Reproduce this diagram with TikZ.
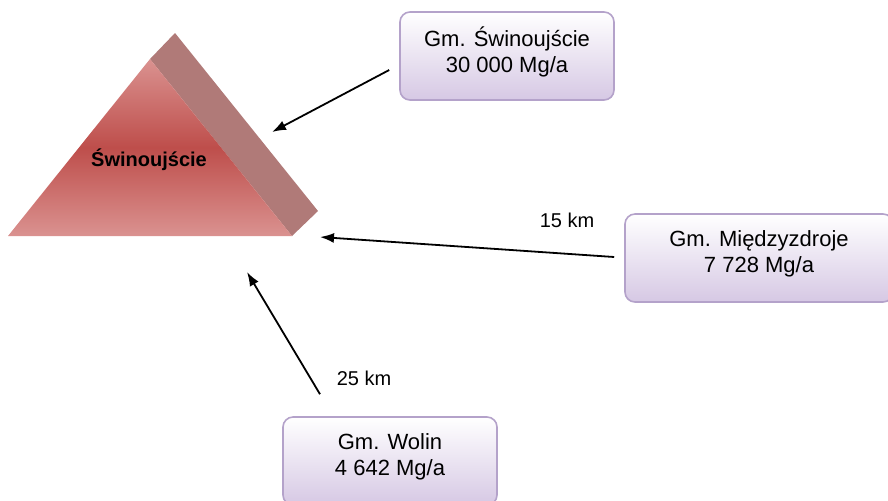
\documentclass[tikz,border=0pt]{standalone}
\usepackage{fontspec}
\setmainfont{Liberation Sans}
\usetikzlibrary{arrows.meta}

\definecolor{pyrlight}{RGB}{218,146,144}
\definecolor{pyrdark}{RGB}{190,78,75}
\definecolor{pyrside}{RGB}{176,122,120}
\definecolor{boxline}{RGB}{180,162,202}
\definecolor{boxfill}{RGB}{214,200,228}

\tikzset{
  gmbox/.style={draw=boxline, line width=0.8pt, rounded corners=5pt, top color=white, bottom color=boxfill, minimum width=107pt, minimum height=44pt, align=center, font=\fontsize{11}{13}\selectfont},
  flow/.style={-{Latex[length=7pt,width=5pt]}, line width=0.9pt},
  dist/.style={font=\fontsize{10}{12}\selectfont}
}

\begin{document}
\begin{tikzpicture}[x=0.5pt, y=-0.5pt]
\useasboundingbox (0,0) rectangle (888,500);

\fill[pyrside] (150,59) -- (175,33) -- (318,211) -- (292,236) -- cycle;
\shade[top color=pyrlight, bottom color=pyrlight, middle color=pyrdark] (150,59) -- (292,236) -- (8,236) -- cycle;
\node[font=\bfseries\fontsize{10}{12}\selectfont] (town) at (149,160) {Świnoujście};

\node[gmbox] (swin) at (507,56) {Gm. Świnoujście\\30 000 Mg/a\rule[-6.3pt]{0pt}{0pt}};
\node[gmbox, minimum width=134pt] (mied) at (759,258) {Gm. Międzyzdroje\\7 728 Mg/a\rule[-6.3pt]{0pt}{0pt}};
\node[gmbox] (wolin) at (390,461) {Gm. Wolin\\4 642 Mg/a\rule[-6.3pt]{0pt}{0pt}};

\coordinate (tipA) at (272,132);
\coordinate (tipB) at (320,237);
\coordinate (tipC) at (247,272);

\draw[flow] ([shift={(-10,14)}]swin.west) -- (tipA);
\draw[flow] ([shift={(-10,-1)}]mied.west) -- (tipB);
\draw[flow] ([shift={(-70,-22)}]wolin.north) -- (tipC);

\node[dist] (kmB) at (567,220) {15 km};
\node[dist] (kmC) at (364,378) {25 km};

\end{tikzpicture}
\end{document}
